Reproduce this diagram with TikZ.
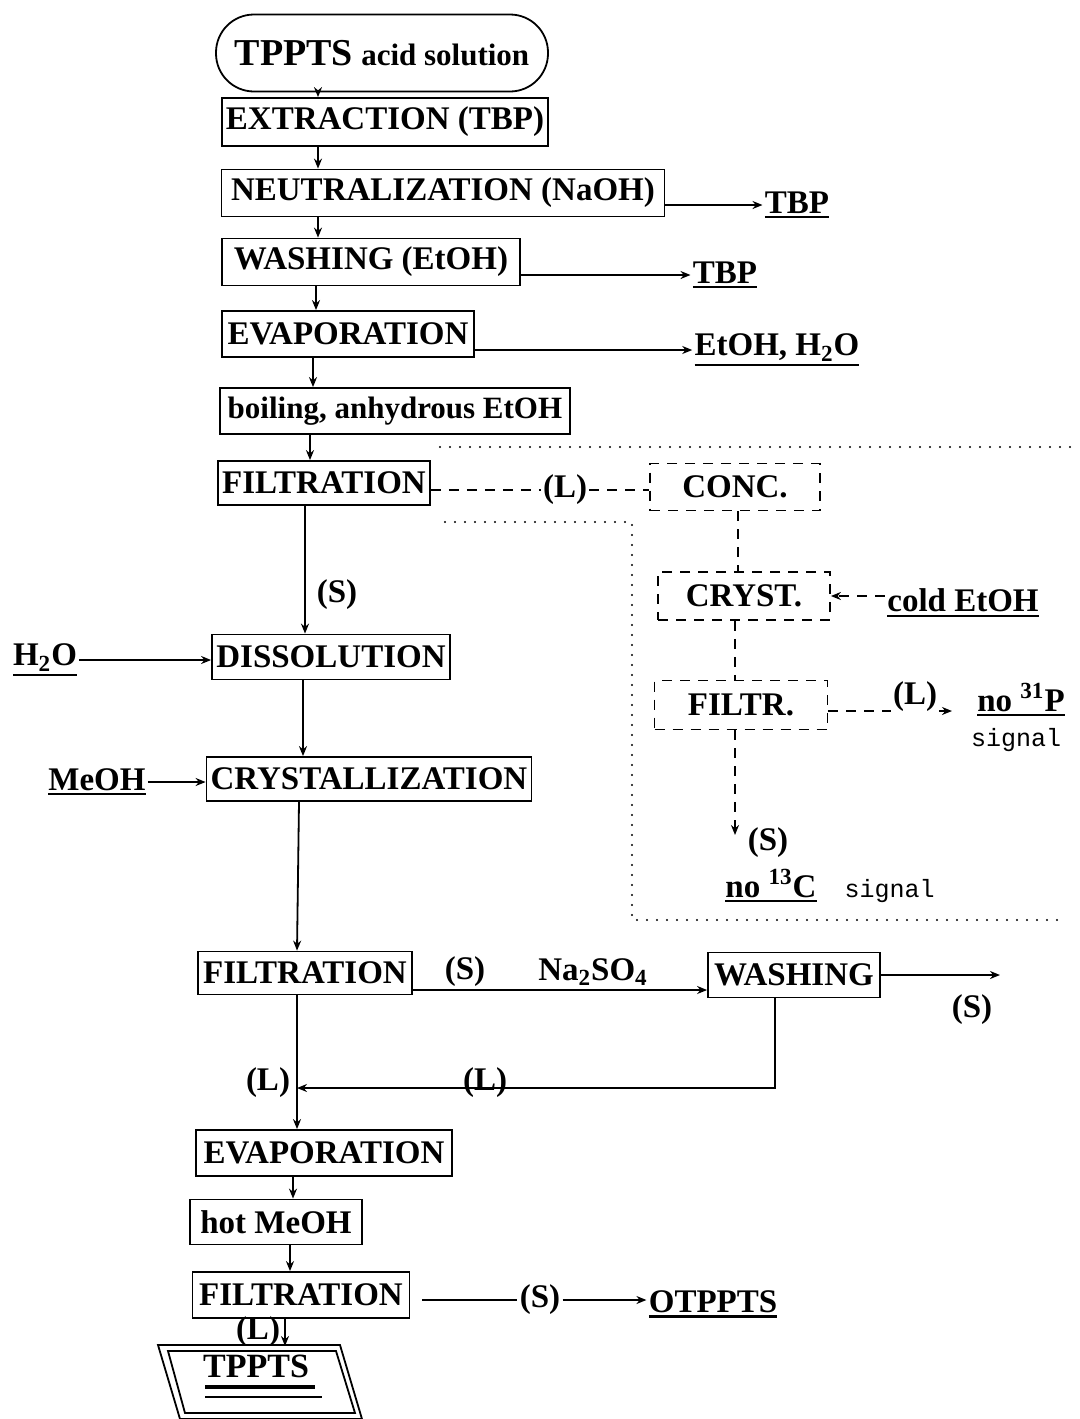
\documentclass[tikz,border=0pt]{standalone}
\usepackage{fontspec}
\setmainfont{Liberation Serif}
\setmonofont{Liberation Mono}
\usetikzlibrary{arrows.meta,calc}
\newcommand\myul[1]{\setbox0\hbox{#1}\vtop{\copy0\kern1.3pt\hrule height 1.1pt width\wd0}}
\begin{document}
\begin{tikzpicture}[x=0.5pt,y=-0.5pt,
 every node/.style={font=\bfseries\fontsize{16.5}{18}\selectfont, inner sep=1pt},
 box/.style={draw, line width=0.9pt, inner sep=2pt},
 dbox/.style={draw, line width=0.9pt, dash pattern=on 5pt off 4pt},
 arr/.style={line width=0.9pt, -{Stealth[length=5pt,width=4pt]}},
 ln/.style={line width=0.9pt},
 dsh/.style={line width=0.9pt, dash pattern=on 5pt off 4pt},
 darr/.style={dsh, -{Stealth[length=5pt,width=4pt]}},
 dotline/.style={line width=1.1pt, dash pattern=on 0pt off 5pt, line cap=round},
 mono/.style={font=\ttfamily\fontsize{12.5}{14}\selectfont},
]
\useasboundingbox (0,0) rectangle (1080,1419);

% main column
\node[box, rounded corners=19pt, minimum width=166pt, minimum height=38.5pt] (start) at (382,53) {{\fontsize{19}{21}\selectfont TPPTS} {\fontsize{15.5}{17}\selectfont acid solution}};
\node[box, minimum width=163pt, minimum height=24pt] (ext) at (385,122) {EXTRACTION (TBP)};
\node[box, minimum width=221.5pt, minimum height=23.5pt] (neu) at (443,193) {NEUTRALIZATION (NaOH)};
\node[box, minimum width=149pt, minimum height=23.5pt] (wash) at (371,262) {WASHING (EtOH)};
\node[box, minimum width=126pt, minimum height=23pt] (evap) at (348,334) {EVAPORATION};
\node[box, minimum width=175pt, minimum height=23pt] (boil) at (395,411) {{\fontsize{15.5}{17}\selectfont boiling, anhydrous EtOH}};
\node[box, minimum width=106pt, minimum height=22pt] (filt1) at (324,483) {FILTRATION};
\node[box, minimum width=119pt, minimum height=22.5pt] (diss) at (331,657) {DISSOLUTION};
\node[box, minimum width=162.5pt, minimum height=22pt] (crys) at (369,779) {CRYSTALLIZATION};
\node[box, minimum width=107pt, minimum height=21.5pt] (filt2) at (305,973) {FILTRATION};
\node[box, minimum width=86pt, minimum height=22.5pt] (washb) at (794,975) {WASHING};
\node[box, minimum width=128pt, minimum height=23pt] (evap2) at (324,1153) {EVAPORATION};
\node[box, minimum width=86pt, minimum height=22.5pt] (hot) at (276,1222) {hot MeOH};
\node[box, minimum width=108.5pt, minimum height=23pt] (filt3) at (301,1295) {FILTRATION};

% dashed boxes
\node[dbox, minimum width=85pt, minimum height=23.5pt] (conc) at (735,487) {CONC.};
\node[dbox, minimum width=86pt, minimum height=24pt] (cryst) at (744,596) {CRYST.};
\node[dbox, minimum width=86.5pt, minimum height=24.5pt] (filtr) at (741,705) {FILTR.};

% side texts
\node (tbp1) at (797,205) {\myul{TBP}};
\node (tbp2) at (725,275) {\myul{TBP}};
\node (eh) at (777,350) {\myul{EtOH, H\textsubscript{2}O}};
\node (h2o) at (45,660) {\myul{H\textsubscript{2}O}};
\node (meoh) at (97,782) {\myul{MeOH}};
\node (s1) at (337,595) {(S)};
\node (l1) at (565,490) {(L)};
\node (cold) at (963,603) {\myul{cold EtOH}};
\node (l3) at (915,697) {(L)};
\node (p31) at (1021,700) {\myul{no \textsuperscript{31}P}};
\node[mono] (sig1) at (1016,740) {signal};
\node (s3) at (768,843) {(S)};
\node (c13) at (830,886) {\myul{no \textsuperscript{13}C}\hspace{14pt}{\ttfamily\mdseries\fontsize{12.5}{14}\selectfont signal}};
\node (s4) at (465,972) {(S)};
\node (na) at (593,972) {Na\textsubscript{2}SO\textsubscript{4}};
\node (s5) at (972,1010) {(S)};
\node (l4) at (485,1083) {(L)};
\node (l5) at (268,1083) {(L)};
\node (s6) at (540,1300) {(S)};
\node (otp) at (713,1304) {\myul{OTPPTS}};
\node (l6) at (258,1332) {(L)};
\node[font=\bfseries\fontsize{17}{19}\selectfont] (final) at (256,1366) {TPPTS};

% column coordinates
\coordinate (x318) at (318,0);
\coordinate (x316) at (316,0);
\coordinate (x313) at (313,0);
\coordinate (x310) at (310,0);
\coordinate (x305) at (305,0);
\coordinate (x303) at (303,0);
\coordinate (x299) at (299,0);
\coordinate (x297) at (297,0);
\coordinate (x293) at (293,0);
\coordinate (x290) at (290,0);
\coordinate (x285) at (285,0);
\coordinate (x738) at (738,0);
\coordinate (x735) at (735,0);
\coordinate (ftop) at (285,1346);
\coordinate (send) at (735,835);
\coordinate (wend) at (1000,975);
\coordinate (wc) at (775,1088);
\coordinate (lj) at (297,1088);
\coordinate (ya) at (0,990);
\coordinate (yf) at (0,711);
\coordinate (yo) at (0,1300);
\coordinate (p31tip) at (952,711);
\coordinate (s6start) at (422,1300);

% main vertical arrows
\draw[arr] (start.south -| x318) -- (ext.north -| x318);
\draw[arr] (ext.south -| x318) -- (neu.north -| x318);
\draw[arr] (neu.south -| x318) -- (wash.north -| x318);
\draw[arr] (wash.south -| x316) -- (evap.north -| x316);
\draw[arr] (evap.south -| x313) -- (boil.north -| x313);
\draw[arr] (boil.south -| x310) -- (filt1.north -| x310);
\draw[arr] (filt1.south -| x305) -- (diss.north -| x305);
\draw[arr] (diss.south -| x303) -- (crys.north -| x303);
\draw[arr] (crys.south -| x299) -- (filt2.north -| x297);
\draw[arr] (filt2.south -| x297) -- (evap2.north -| x297);
\draw[arr] (evap2.south -| x293) -- (hot.north -| x293);
\draw[arr] (hot.south -| x290) -- (filt3.north -| x290);
\draw[arr] (filt3.south -| x285) -- (ftop);

% side arrows
\draw[arr] (neu.east |- tbp1.west) -- (tbp1.west);
\draw[arr] (wash.east |- tbp2.west) -- (tbp2.west);
\draw[arr] (evap.east |- eh.west) -- (eh.west);
\draw[arr] (h2o.east) -- (diss.west |- h2o.east);
\draw[arr] (meoh.east) -- (crys.west |- meoh.east);

% dashed branch
\draw[dsh] (filt1.east |- l1.west) -- (l1.west);
\draw[dsh] (l1.east) -- (conc.west |- l1.east);
\draw[dsh] (conc.south -| x738) -- (cryst.north -| x738);
\draw[dsh] (cryst.south -| x735) -- (filtr.north -| x735);
\draw[darr] (filtr.south -| x735) -- (send);
\draw[darr] (cold.west |- cryst.east) -- (cryst.east);
\draw[dsh] (filtr.east |- yf) -- (l3.west |- yf);
\draw[arr] (l3.east |- yf) -- (p31tip);

% dotted frame
\draw[dotline] (440,447) -- (1075,447);
\draw[dotline] (445,522) -- (632,522) -- (632,920) -- (1065,920);

% bottom section
\draw[arr] (filt2.east |- ya) -- (washb.west |- ya);
\draw[arr] (washb.east) -- (wend);
\draw[arr] (washb.south -| wc) -- (wc) -- (lj);
\draw[ln] (s6start) -- (s6.west |- yo);
\draw[arr] (s6.east |- yo) -- (otp.west |- yo);

% final parallelogram
\draw[ln] (158,1345) -- (340,1345) -- (362,1419) -- (180,1419) -- cycle;
\draw[ln] (168,1351) -- (336,1351) -- (355,1413) -- (185,1413) -- cycle;
\draw[line width=2.2pt] (205,1387) -- (315,1387);
\draw[line width=1.1pt] (205,1397) -- (322,1397);
\end{tikzpicture}
\end{document}
